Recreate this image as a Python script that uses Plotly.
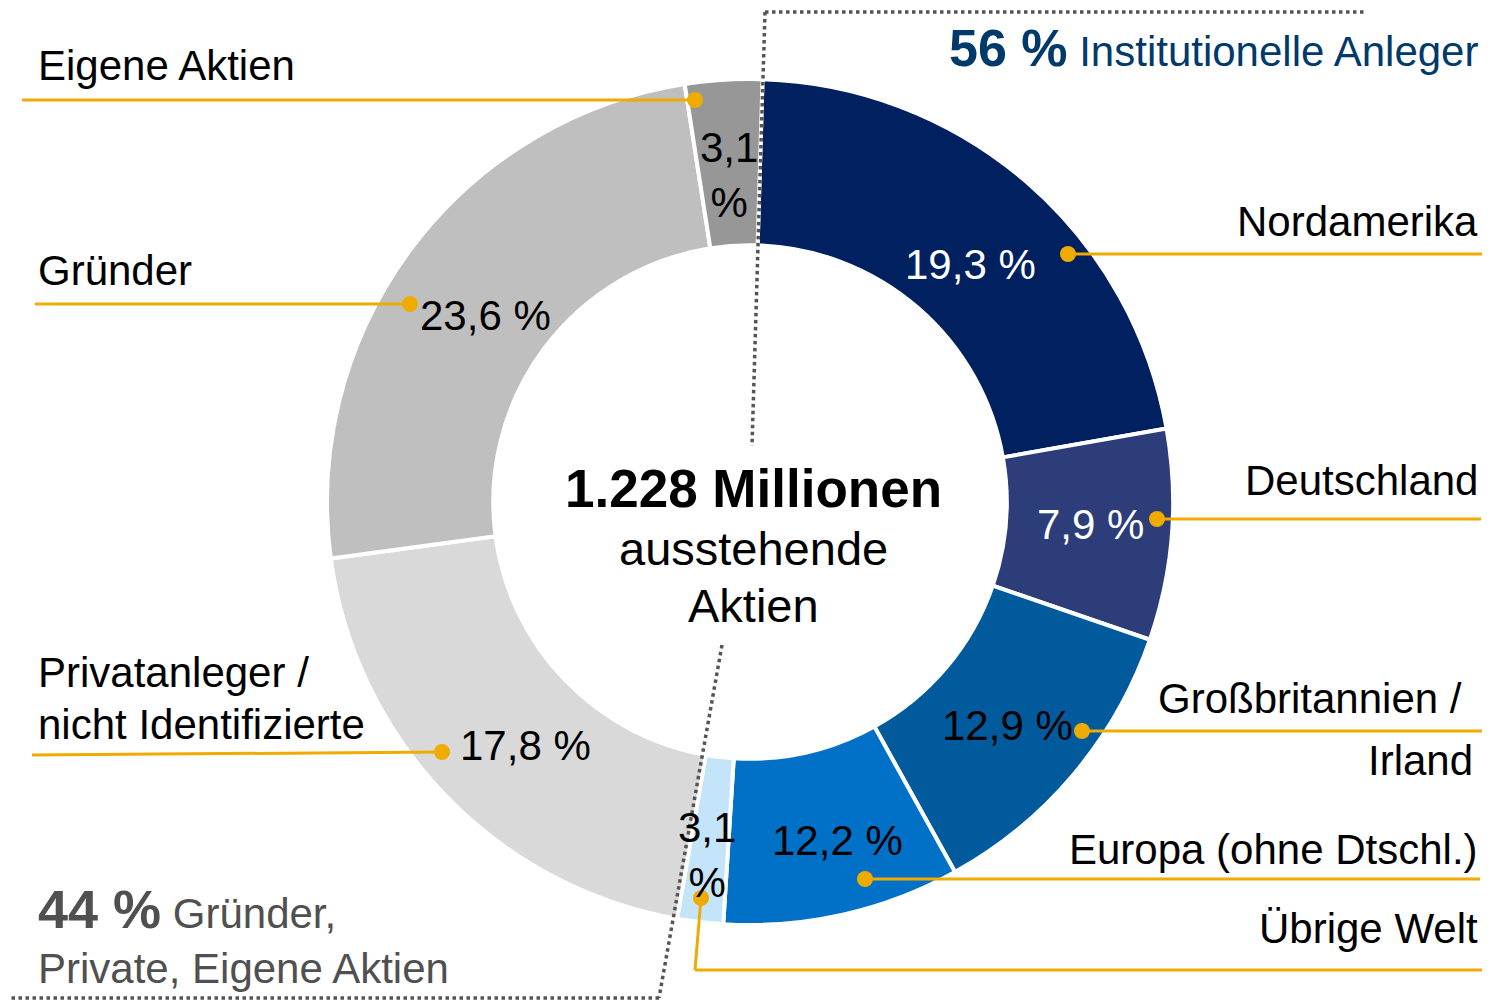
import plotly.graph_objects as go

PAGE_W, PAGE_H = 1490, 1000
OFF = 8                       # default body margin of the html page
W, H = PAGE_W - OFF, PAGE_H - OFF

# ---------------- data ----------------
segments = ["Nordamerika", "Deutschland", "Großbritannien / Irland", "Europa (ohne Dtschl.)",
            "Übrige Welt", "Privatanleger / nicht Identifizierte", "Gründer", "Eigene Aktien"]
# printed shares (labels)
shares = [19.3, 7.9, 12.9, 12.2, 3.1, 17.8, 23.6, 3.1]
# arc sizes as drawn in the reference (% of the ring, read from the slice boundaries)
arc_sizes = [21.75, 8.06, 11.67, 9.06, 1.75, 20.11, 24.67, 2.94]
slice_colors = ["#002060", "#2C3D79", "#005A9C", "#0071C7", "#C4E4FA", "#D9D9D9", "#BFBFBF", "#979797"]
value_text_colors = ["white", "white", "black", "black", "black", "black", "black", "black"]
group_shares = [56, 44]
group_names = ["Institutionelle Anleger", "Gründer,<br>Private, Eigene Aktien"]
total_shares_text = "1.228 Millionen"
center_sub = ["ausstehende", "Aktien"]

# ---------------- helpers (page pixel -> paper) ----------------
def px(x, y):
    return (x - OFF) / W, 1 - (y - OFF) / H

FONT = "Liberation Sans, Arial, Helvetica, sans-serif"
LEAD = "#F0AB00"
FS = 42

def fmt(v):
    s = f"{v:.1f}".replace(".", ",")
    return s + "<br>%" if v < 5 else s + " %"

dx0, dy1 = px(326, 79)
dx1, dy0 = px(1174, 925)

fig = go.Figure()
fig.add_trace(go.Pie(
    labels=segments, values=arc_sizes, customdata=shares, sort=False, direction="clockwise", rotation=1.7,
    hole=0.607, marker=dict(colors=slice_colors, line=dict(color="white", width=4)),
    textinfo="none", hovertemplate="%{label}: %{customdata} %<extra></extra>", showlegend=False,
    domain=dict(x=[dx0, dx1], y=[dy0, dy1]),
))

annotations = []
shapes = []

def ann(text, x, y, anchor="center", size=FS, color="black"):
    ax, ay = px(x, y)
    annotations.append(dict(text=text, x=ax, y=ay, xref="paper", yref="paper",
                            xanchor=anchor, yanchor="middle", showarrow=False,
                            align=("left" if anchor == "left" else "right" if anchor == "right" else "center"),
                            font=dict(family=FONT, size=size, color=color)))

def line(x0, y0, x1, y1, color=LEAD, width=3, dash="solid"):
    a0, b0 = px(x0, y0)
    a1, b1 = px(x1, y1)
    shapes.append(dict(type="line", xref="paper", yref="paper", x0=a0, y0=b0, x1=a1, y1=b1,
                       line=dict(color=color, width=width, dash=dash)))

def dot(x, y, r=8):
    a0, b0 = px(x - r, y + r)
    a1, b1 = px(x + r, y - r)
    shapes.append(dict(type="circle", xref="paper", yref="paper", x0=a0, y0=b0, x1=a1, y1=b1,
                       fillcolor=LEAD, line=dict(color=LEAD, width=0)))

# value labels inside the ring (label placement positions)
value_pos = [(970, 265), (1090, 524), (1007, 725), (838, 840), (707, 855), (525, 745), (485, 315), (729, 175)]
for v, c, (x, y) in zip(shares, value_text_colors, value_pos):
    ann(fmt(v), x, y, color=c)

# outer category labels
ann(segments[0], 1480, 222, "right")
ann(segments[1], 1480, 480, "right")
ann("Großbritannien /", 1464, 698, "right")
ann("Irland", 1475, 760, "right")
ann(segments[3], 1480, 849, "right")
ann(segments[4], 1480, 928, "right")
ann("Privatanleger /", 36, 672, "left")
ann("nicht Identifizierte", 36, 724, "left")
ann(segments[6], 36, 270, "left")
ann(segments[7], 36, 65, "left")

# leader lines
leaders = [
    [(1068, 254), (1490, 254)],
    [(1157, 519), (1481, 519)],
    [(1082, 731), (1490, 731)],
    [(865, 879), (1480, 879)],
    [(701, 898), (695, 970), (1487, 970)],
    [(442, 752), (32, 755)],
    [(410, 304), (35, 304)],
    [(695, 100), (22, 100)],
]
for pts in leaders:
    for (xa, ya), (xb, yb) in zip(pts[:-1], pts[1:]):
        line(xa, ya, xb, yb)
    dot(*pts[0])

# dotted group separators
GR = "#555555"
line(765, 12, 752, 446, color=GR, width=3.5, dash="dot")
line(765, 12, 1365, 12, color=GR, width=3.5, dash="dot")
line(722, 645, 659, 998, color=GR, width=3.5, dash="dot")
line(659, 998, OFF, 998, color=GR, width=3.5, dash="dot")

# group headers
ann(f"<span style='font-size:52px'><b>{group_shares[0]} %</b></span> {group_names[0]}",
    1480, 48, "right", size=42, color="#003A6B")
ann(f"<span style='font-size:54px'><b>{group_shares[1]} %</b></span> {group_names[1]}",
    36, 935, "left", size=42, color="#505050")

# center text
ann(f"<b>{total_shares_text}</b>", 753, 488, size=53)
ann(center_sub[0], 753, 548, size=47)
ann(center_sub[1], 753, 605, size=47)

fig.update_layout(
    width=W, height=H, margin=dict(l=0, r=0, t=0, b=0),
    paper_bgcolor="white", plot_bgcolor="white",
    annotations=annotations, shapes=shapes, showlegend=False,
    font=dict(family=FONT),
)
fig.write_html("out.html")
